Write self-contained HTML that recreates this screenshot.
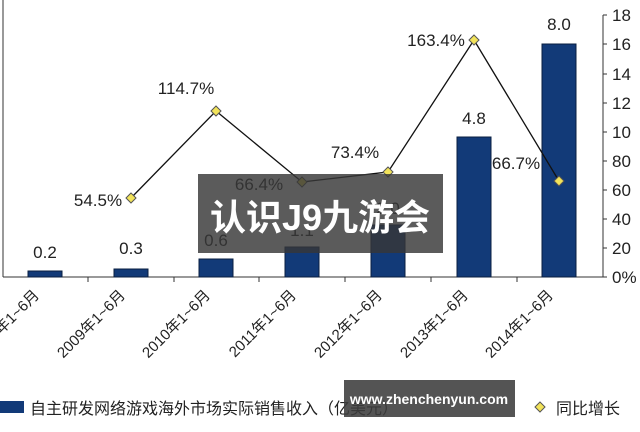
<!DOCTYPE html>
<html><head><meta charset="utf-8"><style>
body{margin:0;background:#fff;width:640px;height:427px;overflow:hidden}
</style></head><body>
<svg width="640" height="427" xmlns="http://www.w3.org/2000/svg" font-family="Liberation Sans, Noto Sans CJK SC, sans-serif">
<rect width="640" height="427" fill="#fff"/>
<line x1="3" y1="0" x2="3" y2="277" stroke="#333" stroke-width="1"/>
<line x1="3" y1="277" x2="603" y2="277" stroke="#333" stroke-width="1"/>
<line x1="603" y1="15" x2="603" y2="277" stroke="#333" stroke-width="1"/>
<g stroke="#333">
<line x1="88" y1="277" x2="88" y2="282"/><line x1="174" y1="277" x2="174" y2="282"/><line x1="259" y1="277" x2="259" y2="282"/><line x1="345" y1="277" x2="345" y2="282"/><line x1="431" y1="277" x2="431" y2="282"/><line x1="517" y1="277" x2="517" y2="282"/>
<line x1="603" y1="15" x2="607" y2="15"/><line x1="603" y1="44" x2="607" y2="44"/><line x1="603" y1="74" x2="607" y2="74"/><line x1="603" y1="103" x2="607" y2="103"/><line x1="603" y1="132" x2="607" y2="132"/><line x1="603" y1="161" x2="607" y2="161"/><line x1="603" y1="190" x2="607" y2="190"/><line x1="603" y1="219" x2="607" y2="219"/><line x1="603" y1="248" x2="607" y2="248"/><line x1="603" y1="277" x2="607" y2="277"/>
</g>
<g font-size="17" fill="#222">
<text x="612" y="21">18</text><text x="612" y="50">16</text><text x="612" y="80">14</text><text x="612" y="109">12</text><text x="612" y="138">10</text><text x="612" y="167">80</text><text x="612" y="196">60</text><text x="612" y="225">40</text><text x="612" y="254">20</text><text x="612" y="283">0%</text>
</g>
<g fill="#123a78" stroke="#0a1f40" stroke-width="1">
<rect x="28" y="271" width="34" height="6"/><rect x="114" y="269" width="34" height="8"/><rect x="199" y="259" width="34" height="18"/><rect x="285" y="247" width="34" height="30"/><rect x="371" y="225" width="34" height="52"/><rect x="457" y="137" width="34" height="140"/><rect x="542" y="44" width="34" height="233"/>
</g>
<g font-size="17" fill="#222" text-anchor="middle">
<text x="45" y="258">0.2</text><text x="131" y="254">0.3</text><text x="216" y="246">0.6</text><text x="302" y="236">1.1</text><text x="388" y="214">2.0</text><text x="474" y="124">4.8</text><text x="559" y="30">8.0</text>
<text x="98" y="206">54.5%</text><text x="186" y="94">114.7%</text><text x="259" y="190">66.4%</text><text x="355" y="158">73.4%</text><text x="436" y="46">163.4%</text><text x="516" y="169">66.7%</text>
</g>
<polyline points="131,198 216,111 302,182 388,172 474,40 559,181" fill="none" stroke="#111" stroke-width="1.3"/>
<g fill="#f2e35a" stroke="#555" stroke-width="1">
<path d="M131,193 l5,5 -5,5 -5,-5z"/><path d="M216,106 l5,5 -5,5 -5,-5z"/><path d="M302,177 l5,5 -5,5 -5,-5z"/><path d="M388,167 l5,5 -5,5 -5,-5z"/><path d="M474,35 l5,5 -5,5 -5,-5z"/><path d="M559,176 l5,5 -5,5 -5,-5z"/>
</g>
<g font-size="15" fill="#222" text-anchor="end">
<text transform="translate(40,296) rotate(-45)">2008年1~6月</text>
<text transform="translate(126,296) rotate(-45)">2009年1~6月</text>
<text transform="translate(211,296) rotate(-45)">2010年1~6月</text>
<text transform="translate(297,296) rotate(-45)">2011年1~6月</text>
<text transform="translate(383,296) rotate(-45)">2012年1~6月</text>
<text transform="translate(469,296) rotate(-45)">2013年1~6月</text>
<text transform="translate(554,296) rotate(-45)">2014年1~6月</text>
</g>
<rect x="0" y="401" width="24" height="12" fill="#123a78"/>
<text x="30" y="414" font-size="16" fill="#222">自主研发网络游戏海外市场实际销售收入（亿美元）</text>
<path d="M540,402 l5,5 -5,5 -5,-5z" fill="#f2e35a" stroke="#555"/>
<text x="556" y="414" font-size="16" fill="#222">同比增长</text>
<rect x="198" y="174" width="245" height="79" fill="rgba(55,55,55,0.82)"/>
<text x="320" y="230" font-size="36" font-weight="bold" fill="#fff" text-anchor="middle">认识J9九游会</text>
<rect x="344" y="380" width="171" height="37" fill="rgba(60,60,60,0.88)"/>
<text x="429" y="404" font-size="14" font-weight="bold" fill="#fff" text-anchor="middle">www.zhenchenyun.com</text>
</svg>
</body></html>
